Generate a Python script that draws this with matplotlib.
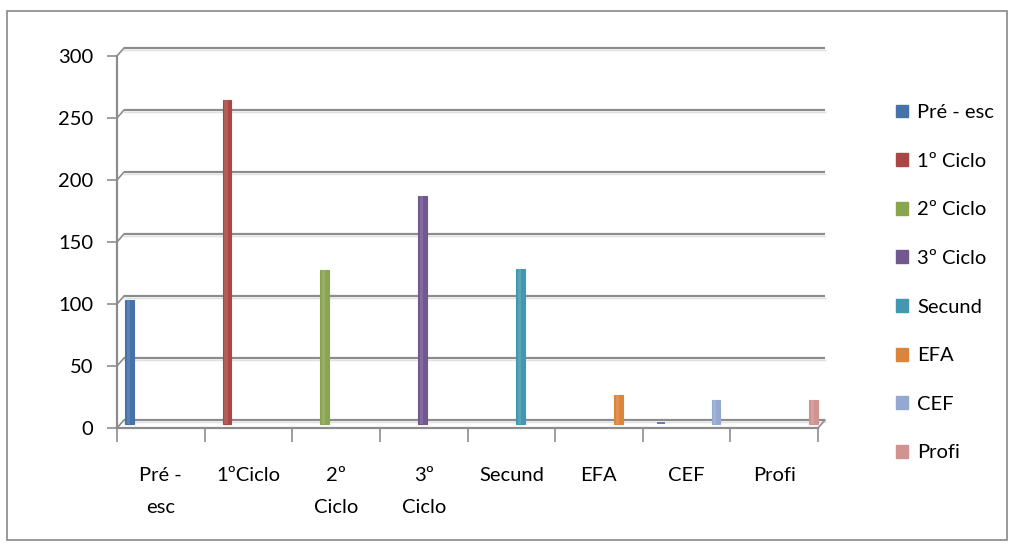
import matplotlib
matplotlib.use("Agg")
import matplotlib.pyplot as plt
from matplotlib.patches import ConnectionPatch, Rectangle
from matplotlib.transforms import ScaledTranslation

categories = ["Pré -\nesc", "1ºCiclo", "2º\nCiclo", "3º\nCiclo", "Secund", "EFA", "CEF", "Profi"]
series = ["Pré - esc", "1º Ciclo", "2º Ciclo", "3º Ciclo", "Secund", "EFA", "CEF", "Profi"]
# one value per series, sitting in its own category
values = [100, 261, 124, 184, 125, 23, 19, 19]
# extra small Pré - esc value sitting under CEF
extra_cat = 6
extra_val = 2
colors = ["#4572A7", "#AA4643", "#89A54E", "#71588F", "#4198AF", "#DB843D", "#93A9CF", "#D19392"]
yticks = [0, 50, 100, 150, 200, 250, 300]

plt.rcParams["font.family"] = ["Lato", "DejaVu Sans"]
FS = 14.5

fig = plt.figure(figsize=(10.14, 5.46), dpi=100)
W, H = 1014, 546
ax = fig.add_axes([117 / W, (H - 428) / H, (818 - 117) / W, (428 - 56) / H])
ax.set_xlim(0, 8)
ax.set_ylim(0, 300)

# back wall sits a few pixels up and right of the front axis, bars half way
back = ax.transData + ScaledTranslation(7 / 100, 8 / 100, fig.dpi_scale_trans)
mid = ax.transData + ScaledTranslation(3.5 / 100, 4 / 100, fig.dpi_scale_trans)
grid_c = "#8c8c8c"
for y in yticks:
    ax.plot([0, 8], [y, y], color=grid_c, lw=1.6, transform=back, zorder=1,
            solid_capstyle="butt", clip_on=False)
    ax.plot([0, 8], [y, y], color="#e0e0e0", lw=1.0,
            transform=back + ScaledTranslation(0, -1.6 / 100, fig.dpi_scale_trans),
            zorder=0.9, clip_on=False)
    con = ConnectionPatch(xyA=(0, y), coordsA=ax.transData, xyB=(0, y), coordsB=back,
                          color=grid_c, lw=1.2)
    fig.add_artist(con)
# floor front edge and right side
ax.plot([0, 8], [0, 0], color=grid_c, lw=1.6, zorder=1, clip_on=False)
fig.add_artist(ConnectionPatch(xyA=(8, 0), coordsA=ax.transData, xyB=(8, 0), coordsB=back,
                               color=grid_c, lw=1.2))

# clustered slots inside each category
slot = 0.116
start = 0.10
bw = 0.1
for j, (v, c) in enumerate(zip(values, colors)):
    x = j + start + j * slot
    ax.bar(x, v, width=bw, color=c, edgecolor=c, linewidth=0.8, zorder=3,
           transform=mid, clip_on=False)
    ax.bar(x - bw * 0.12, v, width=bw * 0.35, color="white", alpha=0.12, linewidth=0,
           zorder=4, transform=mid, clip_on=False)
ax.bar(extra_cat + start + 0.6 * slot, extra_val, width=bw, color="#5d7fb8", zorder=3,
       transform=mid, clip_on=False)

for s in ["top", "right", "bottom"]:
    ax.spines[s].set_visible(False)
ax.spines["left"].set_color(grid_c)
ax.spines["left"].set_linewidth(1.6)
ax.set_yticks(yticks)
ax.tick_params(axis="y", length=7, width=1.2, color=grid_c, labelsize=FS, pad=10)

ax.set_xticks([i + 0.5 for i in range(8)])
ax.set_xticklabels(categories, fontsize=FS, linespacing=2.1, va="top")
ax.tick_params(axis="x", length=0, pad=28)
ax.set_xticks(range(9), minor=True)
ax.tick_params(axis="x", which="minor", length=10, width=1.2, color=grid_c)

for lab in ax.get_yticklabels() + ax.get_xticklabels():
    lab.set_color("black")

handles = [Rectangle((0, 0), 1, 1, color=c) for c in colors]
fig.legend(handles, series, loc="upper left", bbox_to_anchor=(878 / W, 1 - 86 / H),
           frameon=False, fontsize=FS, handlelength=0.6, handleheight=0.6,
           handletextpad=0.45, labelspacing=1.57)

fig.add_artist(Rectangle((7 / W, 1 - 540 / H), 1000 / W, 529 / H, transform=fig.transFigure,
                         fill=False, edgecolor="#878787", lw=1.2))

fig.savefig("out.png", dpi=100)
